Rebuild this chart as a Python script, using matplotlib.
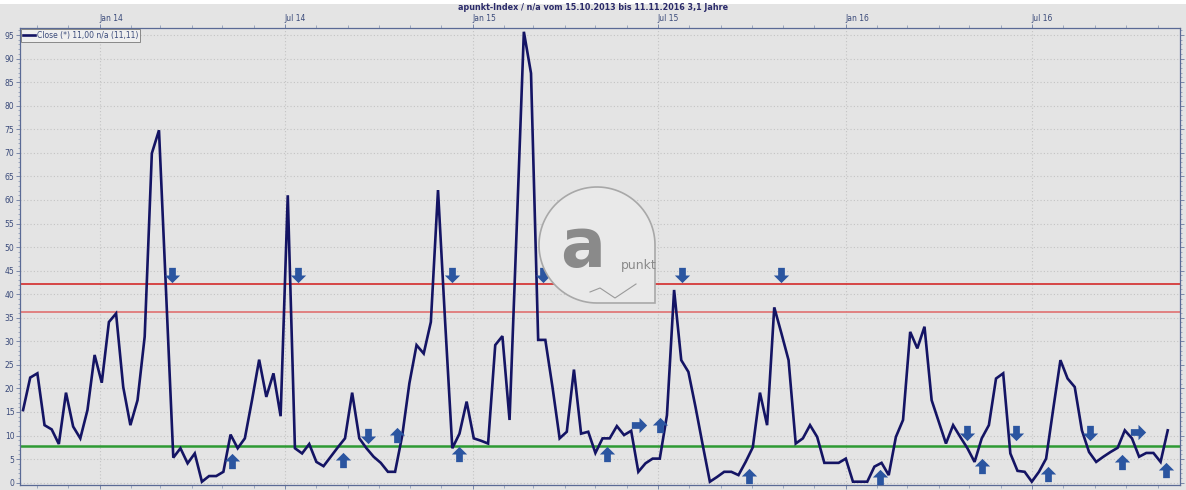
import numpy as np
import pandas as pd
import matplotlib
matplotlib.use("Agg")
import matplotlib.pyplot as plt
import matplotlib.dates as mdates
from matplotlib.path import Path
from matplotlib.patches import Rectangle, PathPatch

# ---------------- data ----------------
start_date = "2013-10-18"
close_values = [
    15.4, 22.3, 23.2, 12.2, 11.3, 8.2, 19.1, 11.9, 9.4, 15.4,
    27.1, 21.2, 34.1, 35.9, 20.3, 12.2, 17.5, 31.0, 69.9, 74.8,
    40.0, 5.3, 7.3, 4.1, 6.2, 0.2, 1.4, 1.4, 2.3, 10.2,
    7.3, 9.4, 17.5, 26.1, 18.2, 23.2, 14.1, 61.0, 7.3, 6.2,
    8.2, 4.4, 3.5, 5.5, 7.5, 9.4, 19.1, 9.4, 7.3, 5.5,
    4.2, 2.3, 2.3, 10.0, 21.1, 29.2, 27.4, 34.1, 62.1, 34.0,
    7.3, 10.4, 17.2, 9.4, 8.9, 8.3, 29.2, 31.1, 13.3, 54.0,
    95.7, 86.9, 30.3, 30.3, 20.3, 9.4, 10.8, 24.0, 10.4, 10.8,
    6.3, 9.4, 9.4, 12.0, 10.1, 11.0, 2.3, 4.1, 5.1, 5.1,
    14.3, 40.9, 26.0, 23.5, 16.0, 8.0, 0.2, 1.2, 2.3, 2.3,
    1.6, 4.4, 7.5, 19.1, 12.2, 37.2, 31.7, 26.0, 8.3, 9.4,
    12.2, 9.7, 4.2, 4.2, 4.2, 5.1, 0.2, 0.2, 0.2, 3.4,
    4.2, 1.6, 9.7, 13.3, 32.0, 28.5, 33.1, 17.5, 12.9, 8.3,
    12.2, 9.7, 7.3, 4.4, 9.4, 12.2, 22.1, 23.2, 6.2, 2.5,
    2.3, 0.2, 2.3, 5.1, 15.7, 26.0, 22.1, 20.3, 11.1, 6.5,
    4.4, 5.5, 6.5, 7.4, 11.1, 9.4, 5.5, 6.3, 6.3, 4.4,
    11.1,
]
upper_band = 42.2
middle_band = 36.2
lower_band = 7.8

# signals: week index (from start) and plotted level
sell_idx = [20.8, 38.4, 48.2, 59.9, 72.7, 92.1, 106.0, 132.0, 138.8, 149.2]
sell_level = [44.1, 44.0, 10.0, 44.1, 44.1, 44.0, 44.0, 10.5, 10.5, 10.5]
buy_idx = [29.2, 44.7, 52.2, 61.0, 81.6, 89.0, 101.5, 119.8, 134.0, 143.2, 153.6, 159.8]
buy_level = [4.6, 4.9, 10.1, 6.0, 6.0, 12.2, 1.4, 1.2, 3.5, 1.8, 4.4, 2.7]
hold_idx = [86.1, 155.8]
hold_level = [12.2, 10.7]

title = "apunkt-Index / n/a vom 15.10.2013 bis 11.11.2016 3,1 Jahre"
legend_label = "Close (*) 11,00 n/a (11,11)"
y_ticks = list(range(0, 100, 5))

# ---------------- figure ----------------
dates = pd.date_range(start_date, periods=len(close_values), freq="7D")
t0 = pd.Timestamp(start_date)
def idx_to_date(ix):
    return [t0 + pd.Timedelta(days=7 * v) for v in ix]

W, H, DPI = 1186, 490, 100
bg = "#E4E4E4"
fig = plt.figure(figsize=(W / DPI, H / DPI), dpi=DPI, facecolor=bg)
fig.patches.append(Rectangle((0, 1 - 4 / H), 1, 4 / H, transform=fig.transFigure,
                             facecolor="white", edgecolor="none", zorder=0))
ax = fig.add_axes([20 / W, 1 - 485 / H, 1160 / W, 457 / H])
ax.set_facecolor(bg)

ax.set_ylim(-0.5, 96.5)
ax.set_xlim(pd.Timestamp("2013-10-15"), pd.Timestamp("2016-11-23"))

# grid
ax.set_yticks(y_ticks)
ax.yaxis.set_minor_locator(matplotlib.ticker.MultipleLocator(1))
ax.grid(axis="y", which="major", color="#C4C4C4", linestyle=(0, (1, 2)), linewidth=0.8)
ax.xaxis.set_major_locator(mdates.MonthLocator(bymonth=[1, 7]))
ax.xaxis.set_minor_locator(mdates.MonthLocator())
ax.xaxis.set_major_formatter(mdates.DateFormatter("%b %y"))
ax.grid(axis="x", which="major", color="#C4C4C4", linestyle=(0, (1, 2)), linewidth=0.8)

tick_col = "#3A4A7A"
ax.tick_params(axis="y", which="major", labelsize=5.5, labelcolor=tick_col, color="#6A7AA0",
               length=3, width=0.6, left=True, right=True, labelleft=True, labelright=True, pad=1)
ax.tick_params(axis="y", which="minor", color="#8090B0", length=1.5, width=0.5, left=True, right=True)
ax.tick_params(axis="x", which="major", labelsize=5.5, labelcolor=tick_col, color="#6A7AA0",
               length=3, width=0.6, top=True, bottom=True, labeltop=True, labelbottom=True, pad=0.5)
ax.tick_params(axis="x", which="minor", color="#8090B0", length=2, width=0.5, top=True, bottom=True)
for lab in ax.get_xticklabels():
    lab.set_horizontalalignment("left")
for s in ax.spines.values():
    s.set_color("#5A6A95")
    s.set_linewidth(0.9)

# bands
ax.axhline(upper_band, color="#D42A2A", linewidth=1.2, zorder=2)
ax.axhline(middle_band, color="#E07070", linewidth=1.2, zorder=2)
ax.axhline(lower_band, color="#2E9A34", linewidth=1.8, zorder=2)

# watermark logo (pixel coordinates, y measured from bottom)
cxp, cyp, r = 597, H - 245, 58
theta = np.linspace(0, 1.5 * np.pi, 80)
verts = [(cxp + r * np.cos(t), cyp + r * np.sin(t)) for t in theta]
verts += [(cxp + r, cyp - r), (cxp + r, cyp)]
codes = [Path.MOVETO] + [Path.LINETO] * (len(verts) - 1)
logo = PathPatch(Path(verts + [verts[0]], codes + [Path.CLOSEPOLY]), transform=None,
                 facecolor="#E9E9E9", edgecolor="#A8A8A8", linewidth=1.2, zorder=1.5)
fig.patches.append(logo)
fig.text(583 / W, 1 - 248 / H, "a", fontsize=48, fontweight="bold", color="#8A8A8A",
         ha="center", va="center", zorder=1.6)
fig.text(621 / W, 1 - 266 / H, "punkt", fontsize=9, color="#8A8A8A",
         ha="left", va="center", zorder=1.6)
fig.lines.append(plt.Line2D([590 / W, 600 / W, 615 / W, 636 / W],
                            [1 - 292 / H, 1 - 288 / H, 1 - 298 / H, 1 - 284 / H],
                            transform=fig.transFigure, color="#9A9A9A", linewidth=0.8, zorder=1.6))

# close line
ax.plot(dates, close_values, color="#141464", linewidth=1.9, zorder=4,
        solid_joinstyle="miter", label=legend_label)

# arrow markers
down = Path([(-0.22, 0.5), (0.22, 0.5), (0.22, 0.0), (0.5, 0.0), (0.0, -0.5),
             (-0.5, 0.0), (-0.22, 0.0), (-0.22, 0.5)],
            [Path.MOVETO] + [Path.LINETO] * 6 + [Path.CLOSEPOLY])
up = Path([(x, -y) for x, y in down.vertices], down.codes)
right = Path([(-y, x) for x, y in down.vertices], down.codes)
acol = "#2B55A0"
ax.plot(idx_to_date(sell_idx), sell_level, linestyle="none", marker=down,
        markersize=11, color=acol, markeredgewidth=0, zorder=5)
ax.plot(idx_to_date(buy_idx), buy_level, linestyle="none", marker=up,
        markersize=11, color=acol, markeredgewidth=0, zorder=5)
ax.plot(idx_to_date(hold_idx), hold_level, linestyle="none", marker=right,
        markersize=11, color=acol, markeredgewidth=0, zorder=5)

# legend
leg = ax.legend(loc="upper left", fontsize=5.5, frameon=True, borderpad=0.25,
                handlelength=1.5, handletextpad=0.3, borderaxespad=0.15, fancybox=False)
leg.get_frame().set_facecolor("#F2F2F2")
leg.get_frame().set_edgecolor("#707070")
leg.get_frame().set_linewidth(0.7)
for t in leg.get_texts():
    t.set_color(tick_col)

# title
fig.text(0.5, 1 - 8 / H, title, ha="center", va="center", fontsize=5.8,
         fontweight="bold", color="#2A2A6A")

fig.savefig("out.png", dpi=DPI, facecolor=fig.get_facecolor())
